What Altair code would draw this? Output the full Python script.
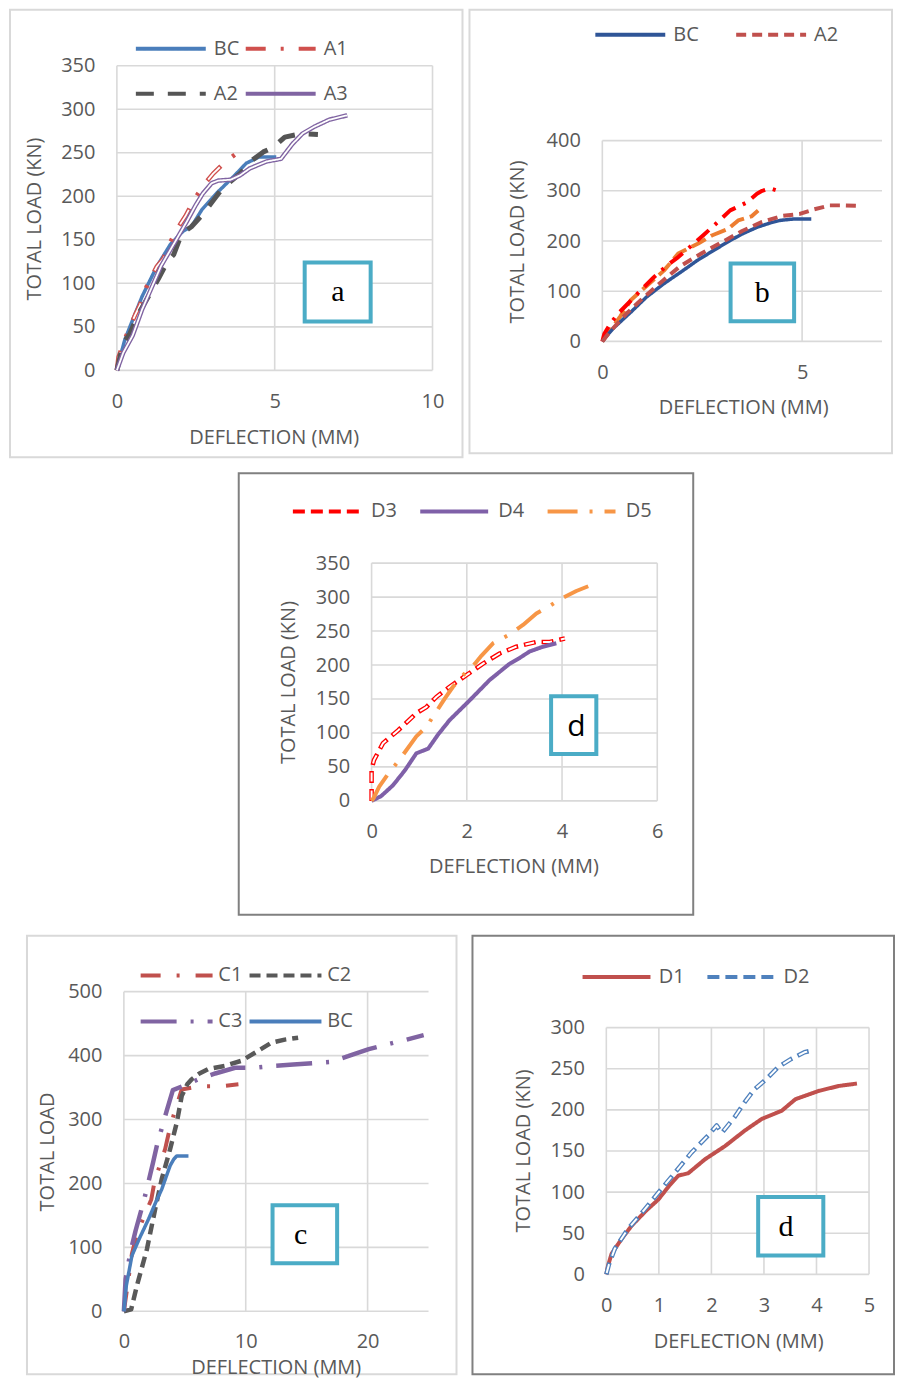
import altair as alt
import pandas as pd

FONT = "Open Sans"
TXT = "#595959"
GRIDC = "#d9d9d9"
BOXC = "#4bacc6"

# ---------------- Panel a ----------------
A_NAMES = ["BC", "A1", "A2", "A3"]
A_BC_X = [0, 0.1, 0.25, 0.5, 0.8, 1.26, 1.7, 2.1, 2.36, 2.7, 3.2, 3.68, 4.1, 4.5, 5.05]
A_BC_Y = [0, 15, 35, 58, 85, 119, 145, 160, 165, 185, 205, 222, 238, 245, 245]
A_A1_X = [0, 0.05, 0.3, 0.57, 0.73, 0.94, 1.26, 1.47, 1.66, 1.9, 2.17, 2.43, 2.73, 3.05, 3.42, 3.89, 4.15]
A_A1_Y = [0, 15, 40, 63, 75, 96, 119, 128, 145, 162, 177, 195, 212, 226, 239, 252, 253]
A_A2_X = [0, 0.2, 0.41, 0.7, 1.05, 1.31, 1.6, 1.8, 2.05, 2.36, 2.74, 3.05, 3.3, 3.5, 3.9, 4.27, 4.64, 4.95, 5.32, 5.84, 6.37]
A_A2_Y = [0, 31, 42, 66, 88, 105, 125, 133, 157, 165, 180, 195, 207, 214, 226, 241, 251, 256, 268, 272, 271]
A_A3_X = [0, 0.2, 0.5, 0.8, 1.1, 1.4, 1.8, 2.2, 2.5, 2.72, 3.0, 3.21, 3.6, 3.9, 4.21, 4.74, 5.2, 5.56, 5.88, 6.26, 6.73, 7.3]
A_A3_Y = [0, 20, 40, 70, 95, 120, 145, 170, 190, 203, 215, 218, 219, 224, 232, 240, 243, 260, 272, 280, 288, 293]

# ---------------- Panel b ----------------
B_NAMES = ["BC", "A2"]
B_BC_X = [0, 0.1, 0.3, 0.71, 1.1, 1.54, 2.0, 2.37, 2.8, 3.2, 3.5, 3.86, 4.2, 4.44, 4.8, 5.23]
B_BC_Y = [0, 10, 28, 58, 88, 115, 140, 161, 182, 201, 214, 227, 236, 241, 244, 244]
B_A2_X = [0, 0.2, 0.6, 1.0, 1.5, 1.95, 2.5, 3.0, 3.5, 4.0, 4.5, 4.94, 5.3, 5.69, 6.0, 6.39]
B_A2_Y = [0, 20, 55, 85, 120, 150, 176, 198, 220, 238, 250, 254, 263, 271, 271, 270]
B_RED_X = [0, 0.05, 0.2, 0.39, 0.6, 0.88, 1.29, 1.6, 1.9, 2.31, 2.52, 2.88, 3.2, 3.62, 3.87, 4.0, 4.2, 4.4]
B_RED_Y = [0, 15, 35, 55, 72, 95, 128, 150, 168, 196, 211, 237, 261, 277, 294, 300, 305, 300]
B_ORG_X = [0, 0.2, 0.45, 0.71, 1.1, 1.54, 1.9, 2.4, 2.74, 3.15, 3.4, 3.73, 3.9]
B_ORG_Y = [0, 22, 50, 82, 110, 141, 175, 195, 211, 224, 241, 249, 261]

# ---------------- Middle panel (d) ----------------
M_NAMES = ["D3", "D4", "D5"]
M_D3_X = [0, 0, 0, 0.05, 0.24, 0.56, 0.94, 1.15, 1.36, 1.64, 1.99, 2.34, 2.69, 3.04, 3.46, 3.74, 4.06]
M_D3_Y = [0, 16, 46, 60, 85, 104, 129, 138, 153, 168, 185, 202, 217, 227, 234, 234, 239]
M_D4_X = [0, 0.2, 0.45, 0.7, 0.94, 1.19, 1.4, 1.64, 2.06, 2.48, 2.9, 3.1, 3.32, 3.6, 3.88]
M_D4_Y = [0, 7, 23, 45, 70, 77, 98, 119, 148, 178, 202, 210, 220, 227, 232]
M_D5_X = [0, 0.05, 0.16, 0.35, 0.58, 0.94, 1.15, 1.43, 1.54, 1.71, 1.95, 2.17, 2.31, 2.55, 2.87, 3.18, 3.46, 3.74, 3.99, 4.3, 4.55]
M_D5_Y = [0, 5, 21, 40, 60, 95, 109, 139, 151, 168, 187, 202, 214, 232, 244, 259, 276, 287, 298, 309, 316]

# ---------------- Panel c ----------------
C_NAMES = ["C1", "C2", "C3", "BC"]
C_BC_X = [0, 0.2, 0.66, 1.3, 2.02, 2.6, 3.11, 3.5, 3.8, 4.1, 4.34, 5.3]
C_BC_Y = [0, 40, 87, 115, 144, 170, 191, 212, 228, 238, 243, 243]
C_C1_X = [0, 0.3, 0.66, 1.07, 1.7, 2.25, 2.5, 2.84, 3.39, 3.66, 4.07, 4.75, 5.57, 6.5, 7.9, 9.4]
C_C1_Y = [0, 40, 90, 121, 150, 175, 201, 222, 254, 277, 306, 347, 350, 352, 352, 355]
C_C2_X = [0, 0.6, 1.07, 1.5, 1.89, 2.57, 3.11, 3.8, 4.34, 4.75, 5.2, 5.57, 6.2, 6.93, 8.3, 9.67, 10.8, 12.1, 13.2, 14.3]
C_C2_Y = [0, 3, 40, 70, 97, 160, 207, 254, 295, 337, 355, 363, 372, 379, 384, 392, 405, 420, 425, 428]
C_C3_X = [0, 0.14, 0.36, 0.63, 0.96, 1.64, 2.0, 2.4, 2.73, 3.55, 4.02, 4.8, 6.12, 7.5, 9.13, 10.7, 12.3, 13.9, 16.9, 18.4, 20.1, 21.7, 23.2, 24.6]
C_C3_Y = [0, 50, 74, 100, 126, 173, 201, 233, 261, 316, 346, 352, 363, 372, 381, 381, 384, 386, 390, 399, 410, 418, 425, 432]

# ---------------- Panel d (bottom right) ----------------
D_NAMES = ["D1", "D2"]
D_D1_X = [0, 0.03, 0.1, 0.29, 0.48, 0.75, 0.99, 1.2, 1.37, 1.56, 1.88, 2.26, 2.64, 2.96, 3.34, 3.6, 4.04, 4.42, 4.77]
D_D1_Y = [0, 10, 25, 43, 59, 77, 91, 108, 120, 123, 140, 156, 175, 189, 199, 213, 223, 229, 232]
D_D2_X = [0, 0.05, 0.16, 0.41, 0.73, 1.05, 1.31, 1.62, 1.94, 2.1, 2.2, 2.3, 2.44, 2.63, 2.82, 3.04, 3.27, 3.52, 3.77, 3.9]
D_D2_Y = [0, 12, 31, 55, 79, 104, 124, 148, 169, 181, 172, 180, 191, 209, 225, 237, 252, 262, 270, 272]

SYMBOL_PATH = "M-5,0H5"


def series_df(d):
    rows = []
    for name, (xs, ys) in d.items():
        for i, (x, y) in enumerate(zip(xs, ys)):
            rows.append({"s": name, "x": x, "y": y, "i": i})
    return pd.DataFrame(rows)


def build_panel(cfg):
    x0, y0, w, h = cfg["tile"]
    pl, pr, pt, pb = cfg["plot"]
    xdom, ydom = cfg["xdom"], cfg["ydom"]
    xs = alt.Scale(domain=xdom, range=[pl - x0, pr - x0], nice=False, zero=False)
    ys = alt.Scale(domain=ydom, range=[pb - y0, pt - y0], nice=False, zero=False)
    xaxis = alt.Axis(values=cfg["xticks"], offset=(pb - y0) - h, grid=False, domain=False,
                     ticks=False, labelPadding=cfg.get("xlp", 31), labelBaseline="middle",
                     labelFont=FONT, labelFontSize=20, labelColor=TXT, labelFlush=False,
                     labelOverlap=False, title="DEFLECTION (MM)", titleX=cfg["xtitle"][0] - x0,
                     titleY=cfg["xtitle"][1] - pb, titleFont=FONT, titleFontSize=20,
                     titleColor=TXT, titleFontWeight="normal", titleBaseline="middle",
                     titleAlign="center", titleAngle=0)
    yaxis = alt.Axis(values=cfg["yticks"], offset=-(pl - x0), grid=False, domain=False,
                     ticks=False, labelPadding=22, labelFont=FONT, labelFontSize=20,
                     labelColor=TXT, labelFlush=False, labelOverlap=False,
                     title=cfg["ytitle_text"], titleX=cfg["ytitle"][0] - pl,
                     titleY=cfg["ytitle"][1] - y0, titleFont=FONT, titleFontSize=20,
                     titleColor=TXT, titleFontWeight="normal", titleBaseline="middle",
                     titleAlign="center", titleAngle=270)
    X = alt.X("x:Q", scale=xs, axis=xaxis)
    Y = alt.Y("y:Q", scale=ys, axis=yaxis)

    layers = []
    xt, yt = cfg["xticks"], cfg["yticks"]
    gv = pd.DataFrame({"x": xt, "y": [ydom[0]] * len(xt), "y2": [ydom[1]] * len(xt)})
    gh = pd.DataFrame({"y": yt, "x": [xdom[0]] * len(yt), "x2": [xdom[1]] * len(yt)})
    layers.append(alt.Chart(gv).mark_rule(color=GRIDC, strokeWidth=1.6).encode(x=X, y=Y, y2="y2:Q"))
    layers.append(alt.Chart(gh).mark_rule(color=GRIDC, strokeWidth=1.6).encode(x=X, x2="x2:Q", y=Y))

    df = cfg["df"]
    names = cfg["names"]
    lg = cfg["legend"]
    L, sw = lg["L"], lg["sw"]
    E = L / 5.0 + sw
    so = L / 2.0 - E / 2.0
    leg = alt.Legend(orient="none", legendX=lg["x"] - x0, legendY=lg["cy"] - y0 - E / 2.0,
                     direction="horizontal", columns=lg["columns"], title=None,
                     symbolType=SYMBOL_PATH, symbolSize=(L / 5.0) ** 2, symbolStrokeWidth=sw,
                     symbolOffset=so,
                     labelFont=FONT, labelFontSize=20, labelColor=TXT,
                     labelOffset=L - E + lg["g"] - so,
                     columnPadding=lg["cp"], rowPadding=lg.get("rp", 0), padding=0)
    color = alt.Color("s:N", scale=alt.Scale(domain=names, range=cfg["colors"]), legend=leg)
    dash = alt.StrokeDash("s:N", scale=alt.Scale(domain=names, range=cfg["dashes"]), legend=leg)

    for ex in cfg.get("extras", []):
        layers.append(
            alt.Chart(df).transform_filter(alt.datum.s == ex["name"])
            .mark_line(color=ex["color"], strokeWidth=ex["w"], strokeDash=ex["dash"],
                       strokeCap="butt", strokeJoin="round")
            .encode(x=X, y=Y, order="i:Q"))

    for k, name in enumerate(names):
        layers.append(
            alt.Chart(df).transform_filter(alt.datum.s == name)
            .mark_line(strokeWidth=cfg["widths"][k], strokeCap="butt", strokeJoin="round")
            .encode(x=X, y=Y, order="i:Q", color=color, strokeDash=dash))
        ov = cfg.get("overlays", {}).get(name)
        if ov:
            layers.append(
                alt.Chart(df).transform_filter(alt.datum.s == name)
                .mark_line(color=ov.get("color", "white"), strokeWidth=ov["w"],
                           strokeDash=ov["dash"], strokeDashOffset=ov.get("off", 0),
                           strokeCap="butt", strokeJoin="round")
                .encode(x=X, y=Y, order="i:Q"))

    bx = cfg["box"]
    bdf = pd.DataFrame({"x": [bx[0]], "x2": [bx[1]], "y": [bx[2]], "y2": [bx[3]]})
    layers.append(alt.Chart(bdf).mark_rect(fill="white", stroke=BOXC, strokeWidth=4)
                  .encode(x=X, x2="x2:Q", y=Y, y2="y2:Q"))
    tdf = pd.DataFrame({"x": [cfg["label"][0]], "y": [cfg["label"][1]], "t": [cfg["label"][2]]})
    layers.append(alt.Chart(tdf).mark_text(font=cfg["label"][3], fontSize=cfg["label"][4],
                                           color="black", align="center", baseline="middle")
                  .encode(x=X, y=Y, text="t:N"))

    return alt.layer(*layers).properties(
        width=w, height=h,
        view=alt.ViewBackground(stroke=cfg["frame"][0], strokeWidth=cfg["frame"][1]))


SERIF = "Liberation Serif"

pa = build_panel(dict(
    tile=(10, 9, 453, 448), plot=(117, 433, 65, 370), xdom=[0, 10], ydom=[0, 350],
    xticks=[0, 5, 10], yticks=[0, 50, 100, 150, 200, 250, 300, 350],
    xtitle=(274, 437), ytitle=(35, 218), ytitle_text="TOTAL LOAD (KN)",
    df=series_df({"BC": (A_BC_X, A_BC_Y), "A1": (A_A1_X, A_A1_Y),
                  "A2": (A_A2_X, A_A2_Y), "A3": (A_A3_X, A_A3_Y)}),
    names=A_NAMES, colors=["#4a7ebb", "#d0504d", "#555555", "#8064a2"],
    dashes=[[1, 0], [20, 15, 3, 15], [18, 14], [1, 0]], widths=[3.5, 4.5, 5, 4.5],
    overlays={"A1": dict(w=1.8, dash=[17, 36], off=-1.5), "A3": dict(w=1.8, dash=[1, 0])},
    legend=dict(x=135, cy=47, columns=2, L=70, sw=4, g=7, cp=-2, rp=25),
    box=(5.95, 8.04, 56, 124), label=(7.0, 90, "a", SERIF, 30),
    frame=("#d9d9d9", 2)))

pb_ = build_panel(dict(
    tile=(470, 9, 423, 444), plot=(603, 883, 140, 341), xdom=[0, 7], ydom=[0, 400],
    xticks=[0, 5], yticks=[0, 100, 200, 300, 400],
    xtitle=(744, 407), ytitle=(518, 241), ytitle_text="TOTAL LOAD (KN)",
    df=series_df({"BC": (B_BC_X, B_BC_Y), "A2": (B_A2_X, B_A2_Y),
                  "R": (B_RED_X, B_RED_Y), "O": (B_ORG_X, B_ORG_Y)}),
    names=B_NAMES, colors=["#2f5597", "#c0504d"], dashes=[[1, 0], [10, 6]], widths=[3.5, 4],
    extras=[dict(name="O", color="#ed7d31", w=4, dash=[16, 6]),
            dict(name="R", color="#ff0000", w=4, dash=[16, 8, 3, 8])],
    legend=dict(x=595, cy=33, columns=2, L=70, sw=4, g=7, cp=29),
    box=(3.21, 4.8, 40, 155), label=(4.0, 97, "b", SERIF, 30),
    frame=("#d9d9d9", 2)))

pm = build_panel(dict(
    tile=(237, 473, 455, 442), plot=(370, 656, 563, 801), xdom=[0, 6], ydom=[0, 350],
    xticks=[0, 2, 4, 6], yticks=[0, 50, 100, 150, 200, 250, 300, 350],
    xtitle=(512, 867), ytitle=(287, 682), ytitle_text="TOTAL LOAD (KN)",
    df=series_df({"D3": (M_D3_X, M_D3_Y), "D4": (M_D4_X, M_D4_Y), "D5": (M_D5_X, M_D5_Y)}),
    names=M_NAMES, colors=["#ff0000", "#7f60a8", "#f79646"],
    dashes=[[12, 6], [1, 0], [30, 12, 3, 12]], widths=[4.5, 4, 4],
    overlays={"D3": dict(w=2, dash=[9, 9], off=-1.5)},
    legend=dict(x=290, cy=510, columns=3, L=68, sw=4, g=9, cp=14.5),
    box=(3.77, 4.72, 69, 154), label=(4.3, 109, "d", FONT, 30),
    frame=("#808080", 2)))

pc = build_panel(dict(
    tile=(25, 938, 430, 439), plot=(122, 427, 994, 1314), xdom=[0, 25], ydom=[0, 500],
    xticks=[0, 10, 20], yticks=[0, 100, 200, 300, 400, 500], xlp=30,
    xtitle=(274, 1370), ytitle=(46, 1154), ytitle_text="TOTAL LOAD",
    df=series_df({"C1": (C_C1_X, C_C1_Y), "C2": (C_C2_X, C_C2_Y),
                  "C3": (C_C3_X, C_C3_Y), "BC": (C_BC_X, C_BC_Y)}),
    names=C_NAMES, colors=["#c0504d", "#595959", "#8064a2", "#4a7ebb"],
    dashes=[[20, 16, 3, 16], [11, 6], [36, 14, 3, 14], [1, 0]], widths=[4, 4.5, 4.5, 3.5],
    legend=dict(x=138, cy=977, columns=2, L=72, sw=4, g=5, cp=-2, rp=26),
    box=(12.2, 17.5, 75, 166), label=(14.5, 119, "c", SERIF, 30),
    frame=("#d9d9d9", 2)))

pd_ = build_panel(dict(
    tile=(471, 938, 422, 439), plot=(605, 868, 1030, 1277), xdom=[0, 5], ydom=[0, 300],
    xticks=[0, 1, 2, 3, 4, 5], yticks=[0, 50, 100, 150, 200, 250, 300],
    xtitle=(737, 1344), ytitle=(522, 1153), ytitle_text="TOTAL LOAD (KN)",
    df=series_df({"D1": (D_D1_X, D_D1_Y), "D2": (D_D2_X, D_D2_Y)}),
    names=D_NAMES, colors=["#c0504d", "#4f81bd"], dashes=[[1, 0], [12, 6]], widths=[4, 4.5],
    overlays={"D2": dict(w=2, dash=[9, 9], off=-1.5)},
    legend=dict(x=580, cy=978, columns=2, L=68, sw=4, g=7, cp=14),
    box=(2.89, 4.13, 23, 94), label=(3.42, 57, "d", SERIF, 30),
    frame=("#808080", 2)))


def spacer(wd):
    return alt.Chart(pd.DataFrame({"z": [0]})).mark_point(opacity=0).properties(
        width=wd, height=10, view=alt.ViewBackground(stroke="transparent"))


def indep(c):
    return c.resolve_scale(color="independent", strokeDash="independent").resolve_legend(
        color="independent", strokeDash="independent")


row1 = indep(alt.hconcat(pa, pb_, spacing=5))
row2 = indep(alt.hconcat(spacer(227), pm, spacing=0))
row3 = indep(alt.hconcat(spacer(15), indep(alt.hconcat(pc, pd_, spacing=14)), spacing=0))

top = indep(alt.vconcat(row1, row2, spacing=14))
chart = indep(alt.vconcat(top, row3, spacing=19)).properties(
    padding={"left": 1, "top": 0, "right": 0, "bottom": 0},
    background="white",
).configure_view(strokeWidth=0)

chart.save("out.html", embed_options={"renderer": "svg", "actions": False})
